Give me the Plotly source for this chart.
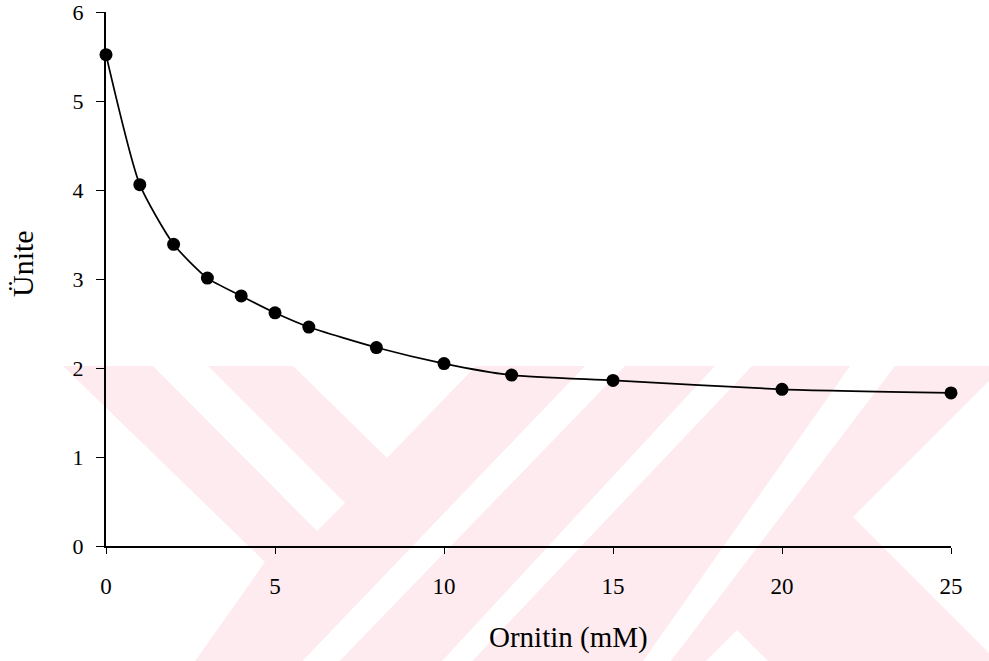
import plotly.graph_objects as go

# ---- data ----
ornitin_mM = [0, 1, 2, 3, 4, 5, 6, 8, 10, 12, 15, 20, 25]
unite = [5.52, 4.06, 3.39, 3.01, 2.81, 2.62, 2.46, 2.23, 2.05, 1.92, 1.86, 1.76, 1.72]
x_ticks = [0, 5, 10, 15, 20, 25]
y_ticks = [0, 1, 2, 3, 4, 5, 6]
x_title = "Ornitin (mM)"
y_title = "Ünite"

W, H = 989, 661
ML, MR, MT, MB = 106, 38, 12, 115
PW, PH = W - ML - MR, H - MT - MB

FONT = "Liberation Serif, Times New Roman, serif"
PINK = "#fdebef"


def to_paper(pts):
    return [((px - ML) / PW, (MT + PH - py) / PH) for px, py in pts]


def poly_path(pts):
    pp = to_paper(pts)
    s = "M {:.5f},{:.5f} ".format(*pp[0])
    for p in pp[1:]:
        s += "L {:.5f},{:.5f} ".format(*p)
    return s + "Z"


# background watermark (decorative), pixel outlines
watermark_pink = [
    [(63, 366), (1004, 366), (853, 517), (1010, 674), (186, 674), (265, 562)],
]
watermark_white = [
    [(153, 366), (208, 366), (345, 503), (317, 531)],
    [(293, 366), (476, 366), (387, 458)],
    [(585, 366), (625, 366), (327, 674), (290, 674)],
    [(715, 366), (752, 366), (460, 674), (430, 674)],
    [(850, 366), (895, 366), (661, 674), (634, 674)],
    [(737, 630), (781, 674), (693, 674)],
]

shapes = []
for pts in watermark_pink:
    shapes.append(dict(type="path", xref="paper", yref="paper", path=poly_path(pts),
                       fillcolor=PINK, line=dict(width=0), layer="below"))
for pts in watermark_white:
    shapes.append(dict(type="path", xref="paper", yref="paper", path=poly_path(pts),
                       fillcolor="white", line=dict(width=0), layer="below"))

fig = go.Figure()
fig.add_trace(go.Scatter(
    x=ornitin_mM, y=unite, mode="lines+markers",
    line=dict(color="black", width=1.7, shape="spline", smoothing=0.6),
    marker=dict(color="black", size=13),
    cliponaxis=False, showlegend=False,
))

fig.update_layout(
    width=W, height=H,
    margin=dict(l=ML, r=MR, t=MT, b=MB, pad=0, autoexpand=False),
    paper_bgcolor="white", plot_bgcolor="rgba(0,0,0,0)",
    font=dict(family=FONT, color="black", size=23),
    shapes=shapes,
    xaxis=dict(range=[0, 25], tickvals=x_ticks, ticktext=[str(v) for v in x_ticks],
               showgrid=False, zeroline=False, showline=True, linecolor="black",
               linewidth=2, ticks="outside", ticklen=6, tickwidth=1, tickcolor="black",
               ticklabelstandoff=12, ticklabeloverflow="allow", automargin=False,
               tickfont=dict(family=FONT, size=23, color="black")),
    yaxis=dict(range=[0, 6], tickvals=y_ticks, ticktext=[str(v) for v in y_ticks],
               showgrid=False, zeroline=False, showline=True, linecolor="black",
               linewidth=2, ticks="outside", ticklen=8, tickwidth=1, tickcolor="black",
               ticklabelstandoff=8, ticklabeloverflow="allow", automargin=False,
               tickfont=dict(family=FONT, size=22, color="black")),
    annotations=[
        dict(text=x_title, xref="paper", yref="paper", x=(568 - ML) / PW,
             y=(MT + PH - 637) / PH, showarrow=False, xanchor="center", yanchor="middle",
             font=dict(family=FONT, size=29, color="black")),
        dict(text=y_title, xref="paper", yref="paper", x=(22 - ML) / PW,
             y=(MT + PH - 264) / PH, showarrow=False, xanchor="center", yanchor="middle",
             textangle=-90, font=dict(family=FONT, size=30, color="black")),
    ],
)

fig.write_html("out.html")
